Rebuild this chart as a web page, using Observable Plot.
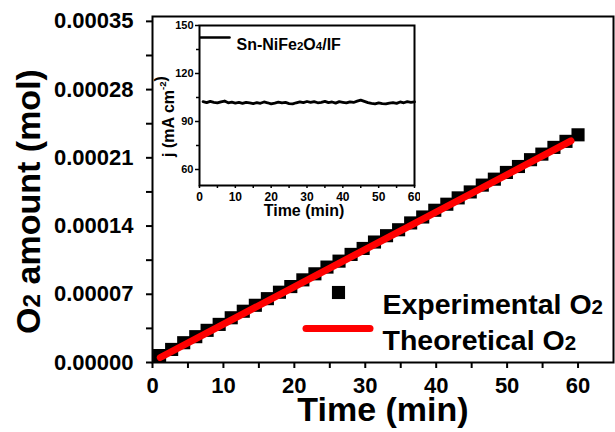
<!DOCTYPE html>
<html>
<head>
<meta charset="utf-8">
<script src="https://cdn.jsdelivr.net/npm/d3@7"></script>
<script src="https://cdn.jsdelivr.net/npm/@observablehq/plot@0.6"></script>
<style>
  body { margin: 0; background: #fff; }
  #wrap { position: relative; width: 615px; height: 432px; overflow: hidden; }
  #wrap svg { position: absolute; }
</style>
</head>
<body>
<div id="wrap"></div>
<script>
// Collected O2 over time (mol) — measured points
const expTime = [1.0, 2.7, 4.4, 6.1, 7.7, 9.4, 11.1, 12.8, 14.5, 16.2, 17.9, 19.5,
  21.2, 22.9, 24.6, 26.3, 28.0, 29.7, 31.3, 33.0, 34.7, 36.4, 38.1, 39.8,
  41.5, 43.1, 44.8, 46.5, 48.2, 49.9, 51.6, 53.3, 54.9, 56.6, 58.3, 60.0];
const expO2 = [7.1e-6, 13.4e-6, 20.3e-6, 26.5e-6, 33.0e-6, 39.1e-6, 45.9e-6, 52.6e-6,
  58.7e-6, 65.5e-6, 72.1e-6, 77.9e-6, 84.8e-6, 91.0e-6, 97.9e-6, 104.0e-6,
  110.9e-6, 117.0e-6, 123.6e-6, 130.1e-6, 136.2e-6, 143.2e-6, 149.3e-6, 156.2e-6,
  162.4e-6, 168.9e-6, 175.0e-6, 182.0e-6, 188.1e-6, 195.0e-6, 201.1e-6, 208.1e-6,
  213.8e-6, 220.7e-6, 226.9e-6, 233.6e-6];

// Theoretical O2 from the passed charge
const theoTime = [1.1, 59.0];
const theoO2 = [5.1e-6, 227.3e-6];

// Main axes ticks
const yTicks = [0, 0.00007, 0.00014, 0.00021, 0.00028, 0.00035];
const yMinor = [0.000035, 0.000105, 0.000175, 0.000245, 0.000315];
const xTicks = [0, 10, 20, 30, 40, 50, 60];
const xMinor = [5, 15, 25, 35, 45, 55];

// Chronoamperometry inset: current density (mA cm-2) vs time (min)
const insetTime = [1, 2, 3, 4, 5, 6, 7, 8, 9, 10, 11, 12, 13, 14, 15, 16, 17, 18, 19, 20,
  21, 22, 23, 24, 25, 26, 27, 28, 29, 30, 31, 32, 33, 34, 35, 36, 37, 38, 39, 40,
  41, 42, 43, 44, 45, 46, 47, 48, 49, 50, 51, 52, 53, 54, 55, 56, 57, 58, 59, 60];
const insetJ = [102.4, 101.8, 102.6, 102.0, 101.6, 102.3, 102.8, 101.7, 102.1, 101.5,
  101.9, 101.3, 102.0, 101.6, 101.2, 101.8, 101.4, 102.2, 101.7, 101.0,
  101.5, 102.1, 101.6, 101.9, 101.2, 101.0, 101.7, 102.3, 101.8, 102.5,
  101.9, 102.4, 101.7, 102.0, 102.6, 101.8, 102.2, 101.5, 102.4, 102.0,
  101.6, 102.3, 101.9, 102.7, 103.4, 102.6, 101.8, 101.3, 101.0, 101.6,
  101.2, 101.0, 101.5, 101.8, 101.3, 102.2, 101.7, 102.4, 102.0, 102.3];
const insetYTicks = [60, 90, 120, 150];
const insetYMinor = [75, 105, 135];
const insetXTicks = [0, 10, 20, 30, 40, 50, 60];
const insetXMinor = [5, 15, 25, 35, 45, 55];

// Text ("_n" = subscript, "^n" = superscript)
const legendLabels = ["Experimental O_2", "Theoretical O_2"];
const insetLegendLabel = "Sn-NiFe_2O_4/IF";
const mainXLabel = "Time (min)";
const mainYLabel = "O_2 amount (mol)";
const insetXLabel = "Time (min)";
const insetYLabel = "j (mA cm^-2)";

const FONT = "'Liberation Sans', Arial, Helvetica, sans-serif";

const experimental = expTime.map((t, i) => ({t, v: expO2[i]}));
const theoretical = theoTime.map((t, i) => ({t, v: theoO2[i]}));
const inset = insetTime.map((t, i) => ({t, j: insetJ[i]}));

// Rounded horizontal swatch used as a line legend key
const lineSwatch = (halfLen, halfWidth) => ({
  draw(ctx) {
    ctx.moveTo(-halfLen, -halfWidth);
    ctx.lineTo(halfLen, -halfWidth);
    ctx.arc(halfLen, 0, halfWidth, -Math.PI / 2, Math.PI / 2);
    ctx.lineTo(-halfLen, halfWidth);
    ctx.arc(-halfLen, 0, halfWidth, Math.PI / 2, 3 * Math.PI / 2);
    ctx.closePath();
  }
});

const bold = {fontWeight: "bold", fill: "black"};

const main = Plot.plot({
  width: 615,
  height: 432,
  marginLeft: 152,
  marginRight: 2,
  marginTop: 16,
  marginBottom: 70,
  style: {background: "transparent", fontFamily: FONT, fontWeight: "bold", color: "black"},
  x: {domain: [0, 65]},
  y: {domain: [0, 0.000355]},
  marks: [
    Plot.axisY(yTicks, {tickSize: 6, tickPadding: 13, strokeWidth: 2, fontSize: 22, fontWeight: "bold",
      tickFormat: d3.format(".5f"), label: null}),
    Plot.axisY(yMinor, {tickSize: 6, strokeWidth: 2, tickFormat: () => "", label: null}),
    Plot.axisX(xTicks, {tickSize: 6, tickPadding: 9, strokeWidth: 2, fontSize: 22, fontWeight: "bold",
      tickFormat: d3.format("d"), label: null}),
    Plot.axisX(xMinor, {tickSize: 6, strokeWidth: 2, tickFormat: () => "", label: null}),
    Plot.dot(experimental, {x: "t", y: "v", symbol: "square", r: 7.4, fill: "black"}),
    Plot.line(theoretical, {x: "t", y: "v", stroke: "#ff0000", strokeWidth: 7, strokeLinecap: "round"}),
    Plot.frame({stroke: "black", strokeWidth: 2}),
    // legend
    Plot.dot([legendLabels[0]], {frameAnchor: "top-left", dx: 186, dy: 276, symbol: "square", r: 7.4, fill: "black"}),
    Plot.dot([legendLabels[1]], {frameAnchor: "top-left", dx: 185.5, dy: 312, symbol: lineSwatch(32, 3.5), r: 1, fill: "#ff0000"}),
    Plot.text([legendLabels[0]], {frameAnchor: "top-left", dx: 230, dy: 277, textAnchor: "start", fontSize: 28.5, ...bold}),
    Plot.text([legendLabels[1]], {frameAnchor: "top-left", dx: 230, dy: 313, textAnchor: "start", fontSize: 28.5, ...bold}),
    // axis titles
    Plot.text([mainXLabel], {frameAnchor: "bottom", textAnchor: "middle", dy: 58, fontSize: 34, ...bold}),
    Plot.text([mainYLabel], {frameAnchor: "left", textAnchor: "middle", dx: -123, dy: 12, rotate: -90, fontSize: 34, ...bold})
  ]
});

const insetPlot = Plot.plot({
  width: 280,
  height: 215,
  marginLeft: 59,
  marginRight: 6,
  marginTop: 15,
  marginBottom: 40,
  style: {background: "transparent", fontFamily: FONT, fontWeight: "bold", color: "black"},
  x: {domain: [0, 60]},
  y: {domain: [50, 150]},
  marks: [
    Plot.axisY(insetYTicks, {tickSize: 4, tickPadding: 2, strokeWidth: 1.5, fontSize: 11, fontWeight: "bold", label: null}),
    Plot.axisY(insetYMinor, {tickSize: 3, strokeWidth: 1.5, tickFormat: () => "", label: null}),
    Plot.axisX(insetXTicks, {tickSize: 3, tickPadding: 4, strokeWidth: 1.5, fontSize: 12, fontWeight: "bold", label: null}),
    Plot.axisX(insetXMinor, {tickSize: 3, strokeWidth: 1.5, tickFormat: () => "", label: null}),
    Plot.line(inset, {x: "t", y: "j", stroke: "black", strokeWidth: 2.8}),
    Plot.frame({stroke: "black", strokeWidth: 2}),
    // legend
    Plot.dot([insetLegendLabel], {frameAnchor: "top-left", dx: 15.5, dy: 12, symbol: lineSwatch(14.5, 1.3), r: 1, fill: "black"}),
    Plot.text([insetLegendLabel], {frameAnchor: "top-left", dx: 37, dy: 13, textAnchor: "start", fontSize: 16, ...bold}),
    // axis titles
    Plot.text([insetXLabel], {frameAnchor: "bottom", textAnchor: "middle", dx: -3, dy: 30, fontSize: 16, ...bold}),
    Plot.text([insetYLabel], {frameAnchor: "left", textAnchor: "middle", dx: -31, dy: 11, rotate: -90, fontSize: 16, ...bold})
  ]
});

// Turn "_n" into small baseline digits and "^..." into a raised superscript
function richText(svg) {
  d3.select(svg).selectAll("text").each(function () {
    const s = this.textContent;
    if (!/[_^]/.test(s)) return;
    const el = d3.select(this);
    el.text(null);
    s.split(/(_\d|\^-?\d)/).forEach(part => {
      if (!part) return;
      if (part[0] === "_") {
        el.append("tspan").attr("font-size", "0.72em").text(part.slice(1));
      } else if (part[0] === "^") {
        el.append("tspan").attr("font-size", "0.6em").attr("dy", "-0.75em").text(part.slice(1));
        el.append("tspan").attr("dy", "0.45em").text("");
      } else {
        el.append("tspan").text(part);
      }
    });
  });
}
richText(main);
richText(insetPlot);

const wrap = document.getElementById("wrap");
main.style.left = "0px"; main.style.top = "0px";
insetPlot.style.left = "140px"; insetPlot.style.top = "10px";
wrap.appendChild(main);
wrap.appendChild(insetPlot);
</script>
</body>
</html>
